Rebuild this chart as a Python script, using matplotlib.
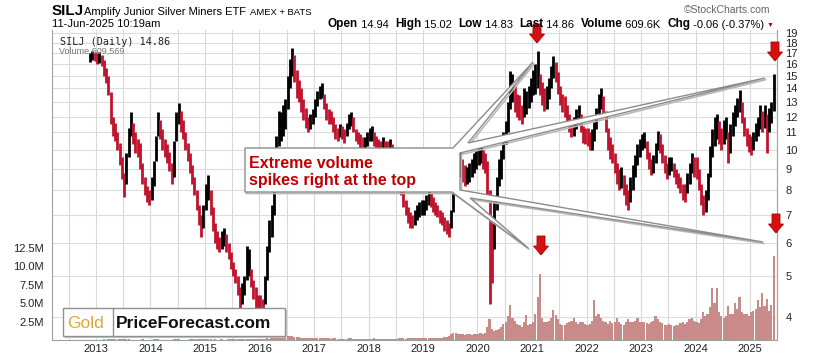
import matplotlib
matplotlib.use("Agg")
import matplotlib.pyplot as plt
import matplotlib.dates as mdates
import numpy as np
import pandas as pd
from matplotlib.patches import Polygon
from matplotlib.text import Annotation
from matplotlib.ticker import FixedLocator, NullLocator, FuncFormatter

plt.rcParams['font.family'] = ['Liberation Sans', 'DejaVu Sans']

W, H = 813, 358

# half-month bars (1st / 15th of each month): low and high in $
low_2012 = [16.2, 16.4, 16.3]
high_2012 = [17.0, 17.2, 17.1]
low_2013 = [16.0, 16.1, 15.8, 15.0, 14.4, 13.5, 11.5, 10.8, 10.5, 10.0, 9.2, 8.5, 7.7, 8.3, 9.6, 10.8, 10.3, 9.8, 9.6, 9.0, 8.3, 7.8, 7.5, 7.4]
high_2013 = [17.0, 17.1, 16.8, 16.4, 15.7, 15.0, 13.7, 12.0, 11.6, 11.0, 10.4, 9.6, 8.8, 9.8, 11.3, 12.3, 11.6, 11.0, 10.6, 10.4, 9.3, 8.6, 8.2, 8.0]
low_2014 = [7.6, 8.2, 9.4, 10.8, 10.6, 10.0, 9.6, 9.3, 8.9, 8.3, 8.6, 10.5, 11.5, 11.0, 10.6, 10.0, 9.4, 8.8, 8.3, 7.8, 7.2, 6.6, 6.2, 6.5]
high_2014 = [8.6, 9.4, 10.8, 12.3, 11.8, 11.2, 10.6, 10.3, 9.9, 9.3, 10.5, 12.3, 12.9, 12.4, 11.8, 11.0, 10.4, 9.8, 9.2, 8.6, 8.0, 7.4, 7.0, 7.4]
low_2015 = [7.2, 7.6, 7.0, 6.4, 6.0, 5.8, 5.7, 5.8, 5.9, 5.7, 5.5, 5.2, 5.0, 4.8, 4.5, 4.2, 4.3, 4.5, 4.9, 5.0, 4.7, 4.4, 4.2, 4.1]
high_2015 = [8.3, 8.7, 8.0, 7.3, 6.7, 6.4, 6.2, 6.4, 6.5, 6.3, 6.0, 5.7, 5.4, 5.2, 5.0, 4.7, 4.8, 5.0, 5.9, 5.8, 5.2, 4.9, 4.7, 4.5]
low_2016 = [4.0, 3.95, 4.3, 4.9, 5.7, 6.2, 7.0, 8.6, 10.2, 10.5, 10.8, 11.2, 12.5, 14.0, 15.0, 14.5, 13.3, 13.0, 12.3, 11.8, 11.3, 11.0, 11.2, 11.5]
high_2016 = [4.5, 4.4, 5.0, 5.9, 6.8, 7.4, 8.8, 10.8, 12.4, 12.3, 12.8, 13.2, 15.0, 16.5, 17.5, 16.8, 15.5, 14.7, 14.0, 13.2, 12.6, 12.0, 12.2, 12.5]
low_2017 = [12.0, 12.7, 13.2, 13.3, 12.5, 11.8, 11.5, 11.5, 11.0, 10.6, 10.5, 10.7, 10.6, 10.4, 10.8, 11.2, 11.4, 11.0, 10.5, 10.3, 10.1, 10.0, 10.0, 10.2]
high_2017 = [13.2, 13.8, 14.2, 14.4, 13.6, 12.9, 12.5, 12.4, 12.0, 11.5, 11.3, 11.5, 11.4, 11.2, 11.6, 12.2, 12.3, 12.0, 11.2, 11.0, 10.9, 10.7, 10.7, 11.0]
low_2018 = [10.5, 10.5, 10.2, 10.0, 9.9, 9.8, 10.0, 9.9, 9.8, 9.8, 9.6, 9.4, 8.9, 8.3, 7.8, 7.3, 7.0, 6.7, 6.5, 6.5, 6.6, 6.8, 6.9, 7.0]
high_2018 = [11.3, 11.4, 11.0, 10.8, 10.6, 10.5, 10.7, 10.5, 10.5, 10.6, 10.3, 10.1, 9.8, 9.2, 8.6, 8.1, 7.6, 7.3, 7.1, 7.0, 7.2, 7.4, 7.5, 7.6]
low_2019 = [7.0, 7.2, 7.4, 7.3, 7.1, 7.0, 6.9, 6.7, 6.6, 6.4, 6.3, 6.2, 6.5, 7.1, 7.8, 8.5, 8.6, 8.4, 8.2, 8.3, 8.4, 8.6, 8.8, 9.0]
high_2019 = [7.6, 7.8, 8.0, 7.9, 7.7, 7.5, 7.4, 7.2, 7.1, 6.9, 6.8, 6.7, 7.2, 8.2, 9.0, 9.8, 9.9, 9.5, 9.2, 9.1, 9.3, 9.5, 9.8, 10.0]
low_2020 = [9.2, 9.3, 9.0, 8.8, 7.8, 4.3, 4.8, 5.8, 7.2, 8.2, 8.5, 9.5, 10.3, 11.0, 12.5, 13.0, 12.3, 12.0, 11.8, 11.5, 12.0, 12.2, 12.6, 13.0]
high_2020 = [10.3, 10.4, 10.0, 9.8, 9.4, 8.0, 6.8, 7.6, 8.6, 9.5, 10.0, 11.0, 11.7, 13.0, 15.4, 15.2, 14.3, 13.6, 13.5, 12.8, 14.0, 13.8, 14.2, 14.8]
low_2021 = [13.5, 13.6, 14.0, 13.5, 12.8, 12.4, 12.5, 13.2, 14.0, 14.8, 14.5, 13.6, 12.8, 12.3, 12.0, 11.5, 11.0, 10.7, 10.8, 11.2, 11.5, 11.0, 10.4, 10.3]
high_2021 = [15.5, 16.0, 17.2, 15.2, 14.5, 14.0, 14.2, 14.8, 15.8, 16.7, 16.2, 15.3, 14.2, 13.6, 13.4, 12.8, 12.2, 11.8, 12.0, 12.5, 12.8, 12.2, 11.4, 11.3]
low_2022 = [10.2, 10.0, 10.0, 10.5, 11.2, 12.0, 12.5, 12.0, 11.0, 10.0, 9.5, 9.3, 8.8, 8.3, 8.0, 8.1, 7.8, 7.4, 7.2, 7.5, 8.0, 8.6, 9.2, 9.6]
high_2022 = [11.3, 11.0, 11.2, 11.7, 12.6, 13.6, 14.0, 13.4, 12.4, 11.3, 10.7, 10.3, 9.8, 9.3, 9.0, 9.1, 8.7, 8.3, 8.0, 8.6, 9.2, 9.7, 10.3, 10.6]
low_2023 = [10.0, 10.1, 9.5, 9.0, 8.7, 8.8, 9.3, 10.0, 9.8, 9.3, 8.8, 8.5, 8.7, 8.9, 8.6, 8.3, 8.1, 7.9, 7.6, 7.5, 7.9, 8.3, 8.8, 8.6]
high_2023 = [10.9, 11.0, 10.5, 9.9, 9.5, 9.7, 10.4, 11.1, 10.9, 10.3, 9.7, 9.3, 9.6, 9.6, 9.3, 9.0, 8.8, 8.6, 8.3, 8.3, 8.8, 9.3, 9.8, 9.6]
low_2024 = [8.5, 8.0, 7.4, 7.0, 7.1, 7.6, 8.6, 9.6, 10.2, 10.6, 10.3, 10.0, 10.3, 10.6, 9.3, 9.8, 10.8, 11.4, 12.0, 12.3, 11.6, 10.8, 10.2, 9.9]
high_2024 = [9.6, 9.0, 8.3, 7.8, 8.0, 8.8, 10.2, 11.2, 12.0, 12.2, 11.7, 11.3, 11.8, 12.0, 11.0, 11.5, 12.3, 12.8, 13.3, 13.9, 13.0, 12.0, 11.3, 10.9]
low_2025 = [9.7, 10.0, 10.5, 10.8, 11.2, 11.0, 11.3, 9.8, 11.0, 11.6, 12.4]
high_2025 = [10.8, 11.0, 11.6, 12.0, 12.8, 12.4, 12.8, 12.2, 12.6, 13.0, 15.2]

# volume per half-month, millions of shares
vol_2012 = [0.05, 0.06, 0.05]
vol_2013 = [0.05, 0.06, 0.05, 0.07, 0.06, 0.08, 0.12, 0.09, 0.07, 0.06, 0.08, 0.10, 0.11, 0.08, 0.07, 0.06, 0.06, 0.05, 0.05, 0.06, 0.07, 0.06, 0.05, 0.06]
vol_2014 = [0.06, 0.07, 0.08, 0.07, 0.06, 0.05, 0.05, 0.06, 0.05, 0.06, 0.07, 0.08, 0.07, 0.06, 0.05, 0.05, 0.06, 0.07, 0.08, 0.09, 0.10, 0.09, 0.08, 0.07]
vol_2015 = [0.08, 0.09, 0.07, 0.06, 0.07, 0.06, 0.06, 0.07, 0.06, 0.06, 0.07, 0.08, 0.09, 0.10, 0.11, 0.12, 0.10, 0.09, 0.10, 0.09, 0.08, 0.08, 0.09, 0.10]
vol_2016 = [0.12, 0.14, 0.18, 0.22, 0.20, 0.24, 0.28, 0.30, 0.34, 0.32, 0.36, 0.42, 0.50, 0.55, 0.48, 0.40, 0.38, 0.34, 0.30, 0.32, 0.28, 0.26, 0.25, 0.24]
vol_2017 = [0.26, 0.28, 0.30, 0.26, 0.24, 0.22, 0.22, 0.20, 0.21, 0.22, 0.20, 0.19, 0.18, 0.18, 0.20, 0.22, 0.24, 0.20, 0.18, 0.17, 0.16, 0.16, 0.18, 0.17]
vol_2018 = [0.18, 0.20, 0.22, 0.20, 0.18, 0.17, 0.16, 0.16, 0.15, 0.16, 0.18, 0.17, 0.19, 0.21, 0.24, 0.22, 0.20, 0.22, 0.25, 0.23, 0.21, 0.22, 0.24, 0.26]
vol_2019 = [0.25, 0.24, 0.23, 0.22, 0.24, 0.22, 0.23, 0.25, 0.30, 0.35, 0.45, 0.55, 0.80, 1.0, 0.9, 0.85, 0.80, 0.75, 0.70, 0.75, 0.80, 0.70, 0.85, 0.80]
vol_2020 = [0.8, 0.9, 0.8, 1.0, 1.8, 2.8, 1.5, 1.2, 1.3, 1.5, 1.8, 2.2, 2.5, 3.2, 4.7, 3.0, 2.6, 2.2, 2.0, 1.8, 2.4, 3.4, 2.0, 2.2]
vol_2021 = [2.4, 3.5, 5.8, 9.0, 3.0, 2.5, 2.4, 2.6, 3.0, 4.1, 3.4, 2.8, 2.2, 2.0, 2.0, 2.3, 2.5, 2.6, 3.0, 2.4, 2.2, 2.5, 2.4, 2.2]
vol_2022 = [2.0, 2.2, 2.6, 5.4, 3.2, 3.5, 3.0, 2.6, 2.4, 2.2, 2.6, 2.3, 2.5, 3.0, 2.4, 2.2, 2.1, 2.4, 2.8, 2.5, 2.4, 2.6, 3.0, 2.5]
vol_2023 = [2.4, 2.5, 2.3, 2.2, 2.5, 2.6, 3.2, 2.8, 2.4, 2.3, 2.0, 2.1, 2.2, 2.0, 1.9, 2.0, 2.1, 2.3, 2.4, 2.2, 2.5, 2.8, 3.0, 2.6]
vol_2024 = [2.5, 2.3, 2.8, 3.8, 3.3, 3.6, 4.5, 7.0, 5.0, 7.0, 3.8, 3.2, 3.0, 3.3, 4.6, 3.5, 3.6, 5.0, 4.2, 5.8, 3.8, 3.5, 3.6, 3.3]
vol_2025 = [3.8, 4.0, 4.2, 5.4, 4.5, 6.4, 4.6, 5.6, 4.0, 4.8, 11.4]

year_labels = [str(y) for y in range(2013, 2026)]
price_ticks = list(range(4, 20))
vol_ticks = [2.5, 5.0, 7.5, 10.0, 12.5]

years = range(2012, 2026)
lows = np.array(sum([globals()[f'low_{y}'] for y in years], []))
highs = np.array(sum([globals()[f'high_{y}'] for y in years], []))
vols = np.array(sum([globals()[f'vol_{y}'] for y in years], []))
dates = pd.date_range('2012-11-15', '2025-06-01', freq='SMS')
assert len(dates) == len(lows) == len(highs) == len(vols)
xd = mdates.date2num(dates + pd.Timedelta(days=7))

mid = (lows + highs) / 2
up = np.concatenate([[True], mid[1:] >= mid[:-1]])
colors = np.where(up, 'black', '#c0142e')


def fx(x):
    return x / W


def fy(y):
    return 1 - y / H


fig = plt.figure(figsize=(W / 100, H / 100), dpi=100)
left, right, top, bottom = 52, 777, 30, 340
axp = fig.add_axes([fx(left), fy(bottom), (right - left) / W, (bottom - top) / H])
axp.set_yscale('log')
axp.set_ylim(3.52, 19.3)
axp.set_xlim(mdates.date2num(pd.Timestamp('2012-03-12')), mdates.date2num(pd.Timestamp('2025-06-30')))

# grid: half-year verticals, price horizontals
for y in range(2012, 2026):
    for m in (1, 7):
        if y == 2012 and m == 1:
            continue
        axp.axvline(mdates.date2num(pd.Timestamp(year=y, month=m, day=1)), color='#d9d9d9', lw=0.8, zorder=0)
for p in price_ticks:
    axp.axhline(p, color='#dcdcdc', lw=0.8, zorder=0)

axp.vlines(xd, lows, highs, colors=colors, lw=2.0, zorder=3)

axp.xaxis.set_major_locator(FixedLocator([mdates.date2num(pd.Timestamp(f'{y}-01-01')) for y in year_labels]))
axp.set_xticklabels(year_labels)
axp.tick_params(axis='x', length=0, pad=3, labelsize=8, labelcolor='#222222')
axp.spines['top'].set_visible(False)
for s in ['left', 'right', 'bottom']:
    axp.spines[s].set_color('#a0a0a0')
    axp.spines[s].set_linewidth(0.8)

# volume on the left scale
axv = axp.twinx()
axv.set_ylim(0, 310 / 18.4 * 2.5)
axv.bar(xd, vols, width=15, color='#c98a8a', edgecolor='none', zorder=2)
for s in axv.spines.values():
    s.set_visible(False)

axp.yaxis.tick_right()
axp.yaxis.set_major_locator(FixedLocator(price_ticks))
axp.yaxis.set_minor_locator(NullLocator())
axp.yaxis.set_major_formatter(FuncFormatter(lambda v, p: f'{v:.0f}'))
axp.tick_params(axis='y', which='both', length=0, pad=6, labelsize=8, labelcolor='#222222',
                left=False, labelleft=False, right=True, labelright=True)

axv.yaxis.tick_left()
axv.yaxis.set_major_locator(FixedLocator(vol_ticks))
axv.yaxis.set_major_formatter(FuncFormatter(lambda v, p: f'{v:.1f}M'))
axv.tick_params(axis='y', length=0, pad=6, labelsize=8, labelcolor='#222222',
                right=False, labelright=False, left=True, labelleft=True)

# header
fig.text(fx(52), fy(15), 'SILJ', fontsize=11, fontweight='bold', va='baseline')
fig.text(fx(84), fy(15), 'Amplify Junior Silver Miners ETF', fontsize=8, va='baseline')
fig.text(fx(250), fy(15), 'AMEX + BATS', fontsize=6.8, va='baseline')
fig.text(fx(52), fy(27), '11-Jun-2025 10:19am', fontsize=8, va='baseline')
fig.text(fx(770), fy(13), '\u00a9StockCharts.com', fontsize=7.5, color='#666666', ha='right', va='baseline')

parts = [('Open', 'bold'), (' 14.94  ', 'normal'), ('High', 'bold'), (' 15.02  ', 'normal'),
         ('Low', 'bold'), (' 14.83  ', 'normal'), ('Last', 'bold'), (' 14.86  ', 'normal'),
         ('Volume', 'bold'), (' 609.6K  ', 'normal'), ('Chg', 'bold'), (' -0.06 (-0.37%)', 'normal')]
prev = fig.text(fx(328), fy(27), parts[0][0], fontsize=8.5, fontweight='bold', va='baseline')
for txt, wt in parts[1:]:
    prev = fig.add_artist(Annotation(txt, xy=(1, 0), xycoords=prev, va='bottom', ha='left',
                                     fontsize=8.5 if wt == 'bold' else 8, fontweight=wt))
fig.add_artist(Annotation('\u25bc', xy=(1, 0.1), xycoords=prev, xytext=(2, 0), textcoords='offset points',
                          va='bottom', ha='left', fontsize=5, color='#cc0000'))

axp.text(0.011, 0.962, 'SILJ (Daily) 14.86', transform=axp.transAxes, family='DejaVu Sans Mono',
         fontsize=7.3, va='center', color='#222222', zorder=6)
axp.text(0.009, 0.93, 'Volume 609,569', transform=axp.transAxes, fontsize=6.5, va='center',
         color='#777777', zorder=6)


def poly(points, **kw):
    fig.add_artist(Polygon([(fx(x), fy(y)) for x, y in points], closed=True,
                           transform=fig.transFigure, **kw))


# callout box with four pointers
callout = [(245, 148), (453, 148), (533, 62), (468, 143), (765, 78), (460, 153), (460, 190),
           (763, 242), (470, 198), (528, 248), (452, 192), (245, 192)]
poly([(x + 1.5, y + 1.5) for x, y in callout], facecolor='none', edgecolor='#b8b8b8', lw=1.2)
poly(callout, facecolor='white', edgecolor='#8c8c8c', lw=1.0)
fig.text(fx(249), fy(168), 'Extreme volume', fontsize=11.5, fontweight='bold', color='#c00000', va='baseline')
fig.text(fx(249), fy(185), 'spikes right at the top', fontsize=11.5, fontweight='bold', color='#c00000', va='baseline')


def arrow(cx, top_y, h=19, sw=8, hw=15, hl=9):
    pts = [(cx - sw / 2, top_y), (cx + sw / 2, top_y), (cx + sw / 2, top_y + h - hl),
           (cx + hw / 2, top_y + h - hl), (cx, top_y + h), (cx - hw / 2, top_y + h - hl),
           (cx - sw / 2, top_y + h - hl)]
    poly(pts, facecolor='#d41010', edgecolor='#b00000', lw=0.6)


arrow(537, 24)
arrow(775, 42)
arrow(541, 236)
arrow(776, 214)

# website badge
poly([(65, 310), (287, 310), (287, 338), (65, 338)], facecolor='#c8c8c8', edgecolor='none')
poly([(63, 308), (285, 308), (285, 336), (63, 336)], facecolor='white', edgecolor='#909090', lw=1.0)
fig.add_artist(plt.Line2D([fx(113), fx(113)], [fy(308), fy(336)], transform=fig.transFigure,
                          color='#909090', lw=1.0))
fig.text(fx(67), fy(328), 'Gold', fontsize=12.5, color='#e3a538', va='baseline')
fig.text(fx(116), fy(328), 'PriceForecast.com', fontsize=12.5, fontweight='bold', color='#111111',
         va='baseline')

fig.savefig('out.png', dpi=100)
